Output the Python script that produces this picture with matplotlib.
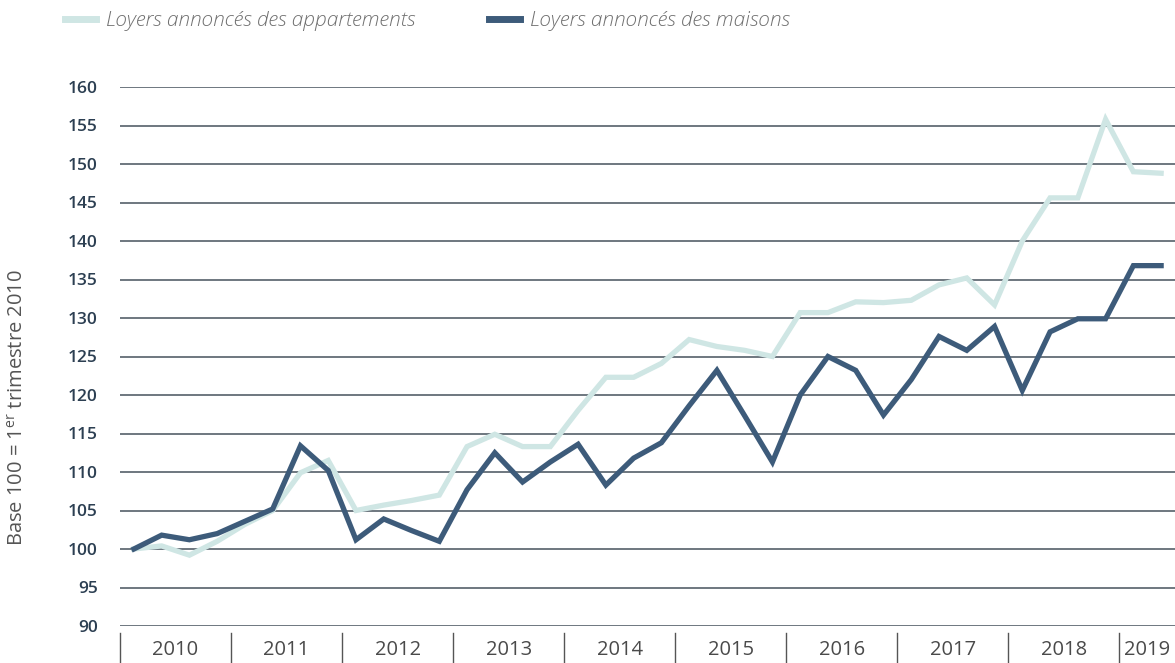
import matplotlib
matplotlib.use("Agg")
import matplotlib.pyplot as plt
import matplotlib.transforms as mtransforms
import numpy as np

# Quarterly advertised rent index, base 100 = Q1 2010 (2010 Q1 -> 2019 Q2)
years = ["2010", "2011", "2012", "2013", "2014", "2015", "2016", "2017", "2018", "2019"]
quarters_per_year = [4, 4, 4, 4, 4, 4, 4, 4, 4, 2]

apartments = [100, 100.4, 99.2, 101, 103.2, 105, 109.9, 111.5,
              105, 105.7, 106.3, 107, 113.3, 114.9, 113.3, 113.3,
              118, 122.3, 122.3, 124.1, 127.2, 126.3, 125.8, 125,
              130.7, 130.7, 132.1, 132, 132.3, 134.3, 135.2, 131.7,
              140, 145.6, 145.6, 155.8, 149, 148.8]

houses = [100, 101.8, 101.2, 102, 103.6, 105.2, 113.4, 110.2,
          101.2, 103.9, 102.4, 101, 107.7, 112.5, 108.7, 111.3,
          113.6, 108.3, 111.8, 113.8, 118.6, 123.2, 117.3, 111.3,
          120, 125, 123.2, 117.4, 122, 127.6, 125.8, 128.9,
          120.6, 128.2, 129.9, 129.9, 136.8, 136.8]

light_color = "#cfe6e4"
dark_color = "#3d5b7a"
grid_color = "#46525c"

plt.rcParams['font.family'] = ['Open Sans', 'DejaVu Sans']

fig = plt.figure(figsize=(11.75, 6.63), dpi=100)
ax = fig.add_axes([120 / 1175, 37 / 663, 1 - 120 / 1175, 539 / 663])

x = np.arange(len(houses))
ax.plot(x, apartments, color=light_color, linewidth=3.8, solid_joinstyle='miter',
        label="Loyers annoncés des appartements", zorder=3)
ax.plot(x, houses, color=dark_color, linewidth=3.8, solid_joinstyle='miter',
        label="Loyers annoncés des maisons", zorder=4)

ax.set_xlim(-0.5, len(houses) - 0.5)
ax.set_ylim(90, 160)
ax.set_yticks(np.arange(90, 161, 5))
ax.yaxis.grid(True, color=grid_color, linewidth=1.1, zorder=1)
ax.set_axisbelow(True)
ax.set_xticks([])
ax.tick_params(axis='y', length=0, pad=16, labelsize=12.5, labelcolor="#2c3f52")
for lbl in ax.get_yticklabels():
    lbl.set_fontweight('semibold')
for spine in ax.spines.values():
    spine.set_visible(False)

# year blocks under the axis: separators and centred labels
trans = mtransforms.blended_transform_factory(ax.transData, ax.transAxes)
edges = np.concatenate([[0], np.cumsum(quarters_per_year)]) - 0.5
for e in edges[:-1]:
    ax.plot([e, e], [-0.013, -0.07], color="#555555", linewidth=1.0,
            transform=trans, clip_on=False)
for yr, lo, hi in zip(years, edges[:-1], edges[1:]):
    ax.text((lo + hi) / 2, -0.044, yr, transform=trans, ha='center', va='center',
            fontsize=14.5, color="#4a4a4a")

fig.text(18 / 1175, 1 - 408 / 663, r"Base 100 = 1$^{\mathregular{er}}$ trimestre 2010",
         rotation=90, ha='center', va='center', fontsize=14.5, color="#555555")

fig.legend(loc='center left', bbox_to_anchor=(46 / 1175, 1 - 21 / 663), ncol=2,
           frameon=False, handlelength=1.5, handletextpad=0.5, columnspacing=3.5,
           prop={'size': 15, 'style': 'italic', 'weight': 'light'}, labelcolor="#707070")
for h in fig.legends[0].legend_handles:
    h.set_linewidth(5)

fig.savefig("out.png", dpi=100)
